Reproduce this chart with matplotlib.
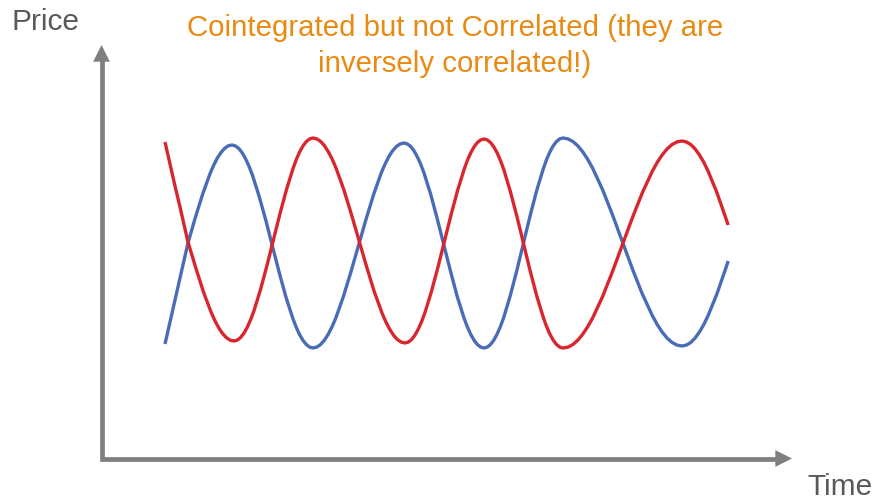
import matplotlib
matplotlib.use("Agg")
import matplotlib.pyplot as plt

# ---- data (x = time, y = price in picture units, downwards) ----
blue_x = [165, 170, 175, 180, 185, 188, 195.3, 202.7, 210, 217.3, 224.7,
          232, 238.8, 245.5, 252.3, 259, 265.8, 272.5, 279.3, 286, 292.8, 299.5, 306.3,
          313, 320.6, 328.2, 335.8, 343.3, 350.9, 358.5, 366.1, 373.7, 381.2, 388.8, 396.4,
          404, 410.7, 417.3, 424, 430.7, 437.3, 444, 450.7, 457.3, 464, 470.7, 477.3,
          484, 490.6, 497.2, 503.8, 510.3, 516.9, 523.5, 530.1, 536.7, 543.3, 549.8, 556.4,
          563, 572.9, 582.8, 592.8, 602.7, 612.6, 622.5, 632.4, 642.3, 652.3, 662.2, 672.1,
          682, 690.7, 699.3, 708, 716.7, 725.3, 728.2,
          # extra readings near the turning points
          213.7, 221.0, 228.3,
          235.4, 242.1, 248.9, 296.1, 302.9, 309.6,
          316.8, 324.4, 332.0, 385.0, 392.6, 400.2,
          407.3, 414.0, 420.7, 467.3, 474.0, 480.7,
          487.3, 493.9, 500.5, 546.5, 553.1, 559.7,
          568.0, 577.9, 587.8, 657.2, 667.1, 677.0,
          686.3, 695.0, 703.7]
blue_y = [345, 323, 301, 279, 257, 244, 218.6, 195, 174.7, 159.1, 149.3,
          146, 149.5, 159.6, 175.7, 196.8, 221.2, 247.5, 273.8, 298.3, 319.3, 335.4, 345.5,
          349, 345.5, 335.3, 319, 297.8, 273, 246.5, 220, 195.3, 174, 157.7, 147.5,
          144, 147.5, 157.7, 174, 195.3, 220, 246.5, 273, 297.8, 319, 335.3, 345.5,
          349, 345.4, 334.9, 318.2, 296.5, 271.2, 244, 216.8, 191.5, 169.8, 153.1, 142.6,
          139, 142.5, 152.9, 169.5, 191, 216.1, 243, 269.9, 295, 316.5, 333.1, 343.5,
          347, 343.5, 333.2, 316.8, 295.5, 270.7, 262,
          166.2, 153.5, 146.8,
          146.9, 153.7, 167.0, 328.0, 341.3, 348.1,
          348.1, 341.2, 327.8, 165.2, 151.8, 144.9,
          144.9, 151.8, 165.2, 327.8, 341.2, 348.1,
          348.1, 341.0, 327.3, 160.7, 147.0, 139.9,
          139.9, 146.9, 160.5, 325.5, 339.1, 346.1,
          346.1, 339.2, 325.7]

red_x = [165, 170, 175, 180, 185, 188, 195.7, 203.3, 211, 218.7, 226.3,
         234, 240.6, 247.2, 253.8, 260.3, 266.9, 273.5, 280.1, 286.7, 293.3, 299.8, 306.4,
         313, 320.7, 328.3, 336, 343.7, 351.3, 359, 366.7, 374.3, 382, 389.7, 397.3,
         405, 411.6, 418.2, 424.8, 431.3, 437.9, 444.5, 451.1, 457.7, 464.3, 470.8, 477.4,
         484, 490.6, 497.2, 503.8, 510.3, 516.9, 523.5, 530.1, 536.7, 543.3, 549.8, 556.4,
         563, 572.9, 582.8, 592.8, 602.7, 612.6, 622.5, 632.4, 642.3, 652.3, 662.2, 672.1,
         682, 690.7, 699.3, 708, 716.7, 725.3, 728.2,
         # extra readings near the turning points
         214.8, 222.5, 230.2,
         237.3, 243.9, 250.5, 296.5, 303.1, 309.7,
         316.8, 324.5, 332.2, 385.8, 393.5, 401.2,
         408.3, 414.9, 421.5, 467.5, 474.1, 480.7,
         487.3, 493.9, 500.5, 546.5, 553.1, 559.7,
         568.0, 577.9, 587.8, 657.2, 667.1, 677.0,
         686.3, 695.0, 703.7]
red_y = [143, 165, 187, 208, 230, 243, 268.6, 292.5, 313, 328.7, 338.6,
         342, 338.5, 328.4, 312.3, 291.3, 266.8, 240.5, 214.2, 189.8, 168.7, 152.6, 142.5,
         139, 142.5, 152.7, 169, 190.3, 215, 241.5, 268, 292.8, 314, 330.3, 340.5,
         344, 340.5, 330.3, 314.1, 293, 268.4, 242, 215.6, 191, 169.9, 153.7, 143.5,
         140, 143.6, 154, 170.6, 192.3, 217.4, 244.5, 271.6, 296.8, 318.4, 335, 345.4,
         349, 345.5, 335.1, 318.7, 297.3, 272.3, 245.5, 218.7, 193.8, 172.3, 155.9, 145.5,
         142, 145.5, 155.7, 171.9, 193, 217.6, 226,
         321.5, 334.5, 341.2,
         341.1, 334.3, 321.0, 160.0, 146.7, 139.9,
         139.9, 146.8, 160.2, 322.8, 336.2, 343.1,
         343.1, 336.2, 322.9, 161.1, 147.8, 140.9,
         140.9, 148.0, 161.6, 327.4, 341.0, 348.1,
         348.1, 341.1, 327.6, 163.4, 149.9, 142.9,
         142.9, 149.8, 163.1]

title_lines = ["Cointegrated but not Correlated (they are", "inversely correlated!)"]
y_label = "Price"
x_label = "Time"

# ---- styling ----
BLUE = "#4A6CB6"
RED = "#D8262E"
ORANGE = "#E98A12"
AXIS_GREY = "#7F7F7F"
TEXT_GREY = "#595959"

plt.rcParams['font.family'] = ['Liberation Sans', 'DejaVu Sans']

fig = plt.figure(figsize=(8.75, 5.02), dpi=100)
ax = fig.add_axes([0, 0, 1, 1])
ax.set_xlim(0, 875)
ax.set_ylim(502, 0)
ax.axis('off')

# axes: one L-shaped stroke plus two arrowheads
ax.plot([101.5, 101.5, 780], [58, 459.5, 459.5], color=AXIS_GREY, lw=3.4,
        solid_joinstyle='miter', solid_capstyle='butt')
head_kw = dict(arrowstyle="-|>,head_length=0.6,head_width=0.3", color=AXIS_GREY,
               lw=0.01, shrinkA=0, shrinkB=0, mutation_scale=20)
ax.annotate("", xy=(101.5, 46), xytext=(101.5, 66), arrowprops=head_kw)
ax.annotate("", xy=(792, 459.5), xytext=(772, 459.5), arrowprops=head_kw)

# curves
def sorted_pts(xs, ys):
    pts = sorted(zip(xs, ys))
    return [p[0] for p in pts], [p[1] for p in pts]

bx, by = sorted_pts(blue_x, blue_y)
rx, ry = sorted_pts(red_x, red_y)
ax.plot(bx, by, color=BLUE, lw=2.4, solid_capstyle='butt', solid_joinstyle='round')
ax.plot(rx, ry, color=RED, lw=2.4, solid_capstyle='butt', solid_joinstyle='round')

# texts
ax.text(11, 30, y_label, fontsize=21.5, color=TEXT_GREY, ha='left', va='baseline')
ax.text(807, 495, x_label, fontsize=21.5, color=TEXT_GREY, ha='left', va='baseline')
ax.text(455, 36, title_lines[0], fontsize=21.2, color=ORANGE, ha='center', va='baseline')
ax.text(455, 72, title_lines[1], fontsize=21.2, color=ORANGE, ha='center', va='baseline')

fig.savefig("out.png", dpi=100)
